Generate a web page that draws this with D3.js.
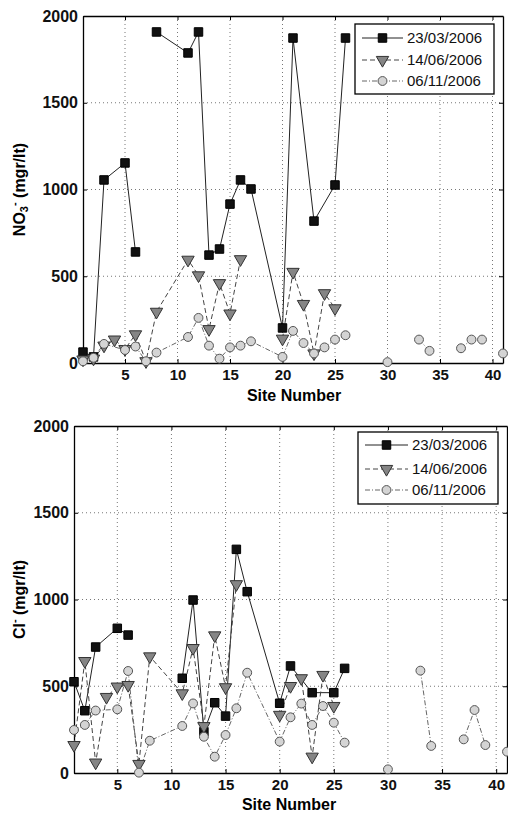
<!DOCTYPE html>
<html>
<head>
<meta charset="utf-8">
<script src="https://cdn.jsdelivr.net/npm/d3@7"></script>
<style>
  body { margin: 0; background: #fff; }
  svg text { font-family: "Liberation Sans", Arial, sans-serif; }
</style>
</head>
<body>
<div id="chart"></div>
<script>
// dates of the three sampling campaigns
const dates = ['23/03/2006', '14/06/2006', '06/11/2006'];

const xTicks = [5, 10, 15, 20, 25, 30, 35, 40];
const yTicks = [0, 500, 1000, 1500, 2000];

// NO3- panel (null breaks the line)
const no3Sites1 = [1, 2, 3, 5, 6, 7, 8, 11, 12, 13, 14, 15, 16, 17, 20, 21, 23, 25, 26];
const no3Vals1  = [63, 35, 1055, 1153, 640, null, 1908, 1787, 1908, 622, 657, 916, 1055, 1003, 202, 1873, 818, 1026, 1873];

const no3Sites2 = [1, 2, 3, 4, 5, 6, 7, 8, 11, 12, 13, 14, 15, 16, 17, 20, 21, 22, 23, 24, 25];
const no3Vals2  = [20, 25, 100, 135, 80, 165, 10, 295, 595, 505, 195, 460, 285, 598, null, 140, 525, 340, 55, 402, 315];

const no3Sites3 = [1, 2, 3, 5, 6, 7, 8, 11, 12, 13, 14, 15, 16, 17, 20, 21, 22, 23, 24, 25, 26, 27, 30, 31, 33, 34, 35, 37, 38, 39, 40, 41];
const no3Vals3  = [10, 30, 110, 75, 95, 10, 60, 150, 260, 100, 25, 90, 100, 125, 35, 185, 115, 55, 90, 135, 160, null, 5, null, 135, 70, null, 85, 135, 135, null, 55];

// Cl- panel
const clSites1 = [1, 2, 3, 5, 6, 7, 11, 12, 13, 14, 15, 16, 17, 20, 21, 23, 25, 26];
const clVals1  = [526, 359, 726, 834, 795, null, 546, 997, 238, 405, 328, 1289, 1045, 402, 617, 463, 463, 603];

const clSites2 = [1, 2, 3, 4, 5, 6, 7, 8, 11, 12, 13, 14, 15, 16, 17, 20, 21, 22, 23, 24, 25];
const clVals2  = [161, 645, 60, 438, 498, 507, 52, 672, 459, 720, 270, 793, 494, 1088, null, 335, 501, 546, 94, 565, 386];

const clSites3 = [1, 2, 3, 5, 6, 7, 8, 11, 12, 13, 14, 15, 16, 17, 20, 21, 22, 23, 24, 25, 26, 27, 30, 31, 33, 34, 35, 37, 38, 39, 40, 41];
const clVals3  = [248, 277, 360, 367, 588, 2, 186, 271, 401, 209, 94, 219, 373, 578, 181, 321, 400, 277, 386, 290, 175, null, 21, null, 590, 156, null, 194, 363, 161, null, 123];

const W = 508, H = 814;
const svg = d3.select('#chart').append('svg')
  .attr('width', W).attr('height', H);

// line look per campaign
const styles = [
  { dash: null,      stroke: '#222', marker: 'square',   fill: '#111', mstroke: '#000' },
  { dash: '5,3',     stroke: '#444', marker: 'triangle', fill: '#858585', mstroke: '#333' },
  { dash: '5,2,1,2', stroke: '#666', marker: 'circle',   fill: '#d4d4d4', mstroke: '#555' }
];

const symbolFor = {
  square: d3.symbol().type(d3.symbolSquare).size(72),
  triangle: d3.symbol().type(d3.symbolTriangle).size(66),
  circle: d3.symbol().type(d3.symbolCircle).size(62)
};

function drawMarker(g, kind, st, x, y) {
  const p = g.append('path')
    .attr('d', symbolFor[kind]())
    .attr('fill', st.fill)
    .attr('stroke', st.mstroke)
    .attr('stroke-width', 1);
  // matlab "v" triangle points down
  const rot = kind === 'triangle' ? ' rotate(180)' : '';
  p.attr('transform', `translate(${x},${y})${rot}`);
}

function panel(opt) {
  const { left, right, top, bottom, series, yLabel, legend, xLabelX, xLabelY } = opt;
  const x = d3.scaleLinear().domain([1, 41]).range([left, right]);
  const y = d3.scaleLinear().domain([0, 2000]).range([bottom, top]);
  const g = svg.append('g');

  // dotted grid
  g.append('g')
    .selectAll('line')
    .data(xTicks)
    .join('line')
    .attr('x1', d => x(d)).attr('x2', d => x(d))
    .attr('y1', top).attr('y2', bottom)
    .attr('stroke', '#777').attr('stroke-dasharray', '1,3');
  g.append('g')
    .selectAll('line')
    .data(yTicks.slice(1, -1))
    .join('line')
    .attr('x1', left).attr('x2', right)
    .attr('y1', d => y(d)).attr('y2', d => y(d))
    .attr('stroke', '#777').attr('stroke-dasharray', '1,3');

  // axes with inward ticks
  const ax = g.append('g').attr('transform', `translate(0,${bottom})`)
    .call(d3.axisBottom(x).tickValues(xTicks).tickSize(-4).tickPadding(6).tickSizeOuter(0));
  const axTop = g.append('g').attr('transform', `translate(0,${top})`)
    .call(d3.axisTop(x).tickValues(xTicks).tickSize(-4).tickFormat('').tickSizeOuter(0));
  const ay = g.append('g').attr('transform', `translate(${left},0)`)
    .call(d3.axisLeft(y).tickValues(yTicks).tickFormat(d3.format('d'))
      .tickSize(-4).tickPadding(5).tickSizeOuter(0));
  const ayR = g.append('g').attr('transform', `translate(${right},0)`)
    .call(d3.axisRight(y).tickValues(yTicks).tickSize(-4).tickFormat('').tickSizeOuter(0));
  [ax, axTop, ay, ayR].forEach(a => {
    a.select('.domain').attr('stroke', '#000').attr('stroke-width', 1.3);
    a.selectAll('.tick line').attr('stroke', '#000');
    a.selectAll('text').attr('font-size', 15).attr('font-weight', 'bold').attr('fill', '#111');
  });
  ay.selectAll('text').attr('font-size', 16);

  // series
  series.forEach((s, i) => {
    const st = styles[i];
    const pts = s.sites.map((site, k) => ({ site, v: s.vals[k] }));
    const line = d3.line()
      .defined(d => d.v != null)
      .x(d => x(d.site)).y(d => y(d.v));
    g.append('path')
      .datum(pts)
      .attr('d', line)
      .attr('fill', 'none')
      .attr('stroke', st.stroke)
      .attr('stroke-width', 1)
      .attr('stroke-dasharray', st.dash);
  });
  series.forEach((s, i) => {
    const st = styles[i];
    s.sites.forEach((site, k) => {
      if (s.vals[k] == null) return;
      drawMarker(g, st.marker, st, x(site), y(s.vals[k]));
    });
  });

  // x label
  g.append('text')
    .attr('x', xLabelX).attr('y', xLabelY)
    .attr('text-anchor', 'middle')
    .attr('font-size', 16).attr('font-weight', 'bold')
    .text('Site Number');

  // y label
  const yl = g.append('text')
    .attr('transform', `translate(25,${(top + bottom) / 2}) rotate(-90)`)
    .attr('text-anchor', 'middle')
    .attr('font-size', 16).attr('font-weight', 'bold');
  yLabel(yl);

  // legend
  const lg = g.append('g');
  lg.append('rect')
    .attr('x', legend.x).attr('y', legend.y)
    .attr('width', legend.w).attr('height', legend.h)
    .attr('fill', '#fff').attr('stroke', '#000').attr('stroke-width', 1.3);
  dates.forEach((d, i) => {
    const st = styles[i];
    const ry = legend.rows[i];
    lg.append('line')
      .attr('x1', legend.x + 7).attr('x2', legend.x + legend.lineW)
      .attr('y1', ry).attr('y2', ry)
      .attr('stroke', st.stroke).attr('stroke-width', 1)
      .attr('stroke-dasharray', st.dash);
    drawMarker(lg, st.marker, st, legend.x + 7 + (legend.lineW - 7) / 2, ry);
    lg.append('text')
      .attr('x', legend.x + legend.lineW + 4).attr('y', ry + 5)
      .attr('font-size', 15).attr('fill', '#111')
      .text(d);
  });
}

panel({
  left: 83, right: 503, top: 16, bottom: 363,
  series: [
    { sites: no3Sites1, vals: no3Vals1 },
    { sites: no3Sites2, vals: no3Vals2 },
    { sites: no3Sites3, vals: no3Vals3 }
  ],
  xLabelX: 294, xLabelY: 401,
  legend: { x: 355, y: 24, w: 139, h: 70, lineW: 48, rows: [38, 60, 81] },
  yLabel: t => {
    t.append('tspan').text('NO');
    t.append('tspan').attr('baseline-shift', '-30%').attr('font-size', 11).text('3');
    t.append('tspan').attr('baseline-shift', '60%').attr('font-size', 11).text('-');
    t.append('tspan').text('  (mgr/lt)');
  }
});

panel({
  left: 74, right: 507, top: 426, bottom: 773,
  series: [
    { sites: clSites1, vals: clVals1 },
    { sites: clSites2, vals: clVals2 },
    { sites: clSites3, vals: clVals3 }
  ],
  xLabelX: 289, xLabelY: 810,
  legend: { x: 358, y: 432, w: 140, h: 72, lineW: 50, rows: [445, 469, 490] },
  yLabel: t => {
    t.append('tspan').text('Cl');
    t.append('tspan').attr('baseline-shift', '60%').attr('font-size', 11).text('-');
    t.append('tspan').text('  (mgr/lt)');
  }
});
</script>
</body>
</html>
